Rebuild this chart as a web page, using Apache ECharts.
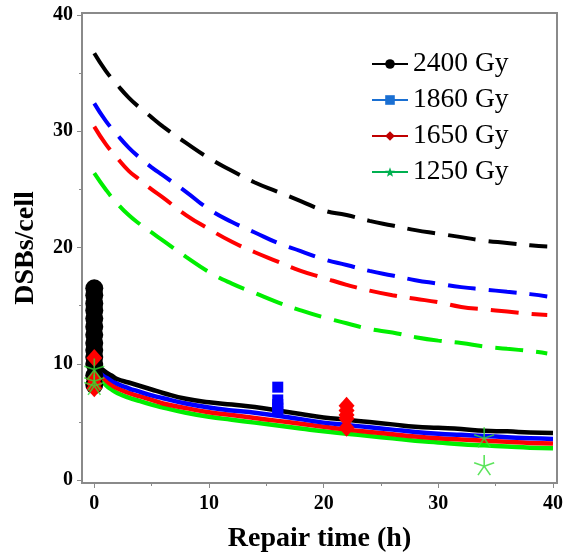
<!DOCTYPE html>
<html><head><meta charset="utf-8">
<script src="https://cdn.jsdelivr.net/npm/echarts@6/dist/echarts.min.js"></script>
<style>html,body{margin:0;padding:0;background:#fff}#c{width:568px;height:558px}</style>
</head><body><div id="c"></div>
<script>
// ---- data ----
const doses = ['2400 Gy', '1860 Gy', '1650 Gy', '1250 Gy'];
const xTicks = [0, 10, 20, 30, 40];
const yTicks = [0, 10, 20, 30, 40];
const xMinor = [5, 15, 25, 35];
const yMinor = [5, 15, 25, 35];

// dashed model curves
const timeModel = [0, 1, 2, 3, 4, 5, 6, 8, 10, 12, 14, 16, 18, 20, 22, 24, 26, 28, 30, 32, 34, 36, 38, 39.5];
const model2400 = [36.7, 35.2, 34.0, 32.9, 32.0, 31.2, 30.4, 29.0, 27.7, 26.6, 25.6, 24.8, 24.0, 23.2, 22.8, 22.3, 21.9, 21.5, 21.2, 20.9, 20.6, 20.4, 20.2, 20.1];
const model1860 = [32.4, 30.9, 29.7, 28.6, 27.7, 26.9, 26.2, 24.8, 23.3, 22.2, 21.3, 20.4, 19.7, 19.0, 18.5, 18.0, 17.6, 17.2, 16.9, 16.6, 16.4, 16.2, 16.0, 15.8];
const model1650 = [30.4, 28.9, 27.7, 26.6, 25.8, 25.0, 24.3, 22.8, 21.6, 20.5, 19.6, 18.8, 18.0, 17.4, 16.8, 16.3, 15.9, 15.6, 15.3, 14.9, 14.7, 14.5, 14.3, 14.2];
const model1250 = [26.4, 25.0, 23.8, 22.8, 22.0, 21.3, 20.6, 19.2, 17.9, 16.9, 16.1, 15.3, 14.6, 14.0, 13.5, 13.0, 12.7, 12.3, 12.0, 11.8, 11.5, 11.3, 11.1, 10.9];

// solid fitted curves
const timeFit = [0, 0.5, 1, 1.5, 2, 3, 4, 5, 6, 8, 10, 12, 14, 16, 18, 20, 22, 24, 26, 28, 30, 32, 34, 36, 38, 40];
const fit2400 = [10.2, 9.7, 9.3, 9.0, 8.7, 8.4, 8.1, 7.8, 7.5, 7.0, 6.7, 6.5, 6.3, 6.0, 5.7, 5.4, 5.2, 5.0, 4.8, 4.6, 4.5, 4.4, 4.25, 4.2, 4.1, 4.05];
const fit1860 = [10.0, 9.4, 9.0, 8.6, 8.3, 7.9, 7.6, 7.3, 7.05, 6.6, 6.25, 6.0, 5.8, 5.55, 5.25, 4.95, 4.75, 4.55, 4.35, 4.15, 4.0, 3.9, 3.8, 3.7, 3.6, 3.55];
const fit1650 = [9.8, 9.1, 8.6, 8.2, 7.9, 7.5, 7.2, 6.9, 6.6, 6.2, 5.85, 5.6, 5.35, 5.1, 4.85, 4.6, 4.35, 4.15, 3.95, 3.75, 3.6, 3.5, 3.4, 3.3, 3.2, 3.15];
const fit1250 = [9.6, 8.8, 8.2, 7.8, 7.5, 7.1, 6.8, 6.5, 6.25, 5.8, 5.45, 5.2, 4.95, 4.7, 4.45, 4.2, 4.0, 3.8, 3.6, 3.4, 3.25, 3.1, 3.0, 2.9, 2.8, 2.75];

// measured points
const meas2400T = [0, 0, 0, 0, 0, 0, 0, 0, 0, 0, 0, 0, 0];
const meas2400V = [16.5, 15.9, 15.2, 14.6, 13.9, 13.2, 12.5, 11.8, 11.2, 10.6, 10.0, 9.0, 8.2];
const meas1860T = [16, 16, 16, 16, 16];
const meas1860V = [8.0, 6.9, 6.5, 6.2, 5.9];
const meas1650T = [0, 0, 0, 0, 22, 22, 22, 22, 22];
const meas1650V = [10.5, 8.7, 8.3, 7.9, 6.4, 6.0, 5.6, 5.3, 4.5];
const meas1250T = [0, 0, 0, 34, 34];
const meas1250V = [9.6, 8.6, 8.2, 3.7, 1.3];

// ---- styles ----
const lineColors = ['#000000', '#0000ff', '#ff0000', '#00ee00'];
const markColors = ['#000000', '#0000ff', '#ff0000', '#33dd33'];
const legendColors = ['#000000', '#1a6fd2', '#c00000', '#00b050'];
const ASTER = 'path://M0,-10L0,0M0,0L9.5,-3.1M0,0L5.9,8.1M0,0L-5.9,8.1M0,0L-9.5,-3.1';
const STARF = 'path://M0,-10L2.5,-3.4L9.5,-3.1L4,1.3L5.9,8.1L0,4.2L-5.9,8.1L-4,1.3L-9.5,-3.1L-2.5,-3.4Z';
const legendSymbols = ['circle', 'rect', 'diamond', STARF];
const FONT = '"Liberation Serif","Times New Roman",serif';
const AX = '#8a8a8a';

const zip = (a, b) => a.map((v, i) => [v, b[i]]);
const models = [model2400, model1860, model1650, model1250];
const fits = [fit2400, fit1860, fit1650, fit1250];
const meas = [[meas2400T, meas2400V], [meas1860T, meas1860V], [meas1650T, meas1650V], [meas1250T, meas1250V]];

const series = [];
models.forEach((m, i) => series.push({
  name: doses[i] + ' model', type: 'line', data: zip(timeModel, m), smooth: true, symbol: 'none',
  lineStyle: { color: lineColors[i], width: 4, type: [28, 13] }, z: 2, silent: true
}));
fits.forEach((f, i) => series.push({
  name: doses[i] + ' fit', type: 'line', data: zip(timeFit, f), smooth: true, symbol: 'none',
  lineStyle: { color: lineColors[i], width: 4.5 }, z: 3 + (3 - i) * 0.1, silent: true
}));
const markSym = ['circle', 'rect', 'diamond', ASTER];
const markSize = [18, 11, [16, 18], 20];
meas.forEach((mm, i) => series.push({
  name: doses[i] + ' data', type: 'scatter', data: zip(mm[0], mm[1]),
  symbol: markSym[i], symbolSize: markSize[i], z: 5 + i,
  itemStyle: i === 3 ? { color: 'rgba(0,0,0,0)', borderColor: markColors[i], borderWidth: 1.6 } : { color: markColors[i], opacity: 1 },
  silent: true
}));
doses.forEach((d, i) => series.push({
  name: d, type: 'line', data: [], symbol: legendSymbols[i],
  lineStyle: { color: legendColors[i], width: 3 }, itemStyle: { color: legendColors[i] }
}));

const chart = echarts.init(document.getElementById('c'), null, { renderer: 'canvas' });
const xRange = { min: -1.07, max: 40.35 };
const yRange = { min: -0.24, max: 40.17 };
chart.setOption({
  animation: false,
  backgroundColor: '#fff',
  grid: { left: 82, right: 11, top: 13, bottom: 68.5, show: true, borderColor: AX, borderWidth: 2, backgroundColor: 'transparent' },
  legend: {
    data: doses, orient: 'vertical', left: 366, top: 45, itemWidth: 36, itemHeight: 12, itemGap: 8,
    textStyle: { fontFamily: FONT, fontSize: 27.5, color: '#000' }, selectedMode: false
  },
  xAxis: [{
    type: 'value', min: xRange.min, max: xRange.max,
    name: 'Repair time (h)', nameLocation: 'middle', nameGap: 42,
    nameTextStyle: { fontFamily: FONT, fontSize: 28, fontWeight: 'bold', color: '#000' },
    axisLine: { show: true, onZero: false, lineStyle: { color: AX, width: 2 } },
    axisTick: { show: true, length: 5, customValues: xTicks, lineStyle: { color: AX, width: 1 } },
    axisLabel: { customValues: xTicks, fontFamily: FONT, fontSize: 20, fontWeight: 'bold', color: '#000', margin: 11 },
    splitLine: { show: false }
  }, {
    type: 'value', min: xRange.min, max: xRange.max, position: 'bottom',
    axisLine: { show: false, onZero: false },
    axisTick: { show: true, length: 3, customValues: xMinor, lineStyle: { color: AX, width: 1 } },
    axisLabel: { show: false }, splitLine: { show: false }
  }],
  yAxis: [{
    type: 'value', min: yRange.min, max: yRange.max,
    name: 'DSBs/cell', nameLocation: 'middle', nameGap: 42, nameRotate: 90,
    nameTextStyle: { fontFamily: FONT, fontSize: 28, fontWeight: 'bold', color: '#000' },
    axisLine: { show: true, onZero: false, lineStyle: { color: AX, width: 2 } },
    axisTick: { show: true, length: 5, customValues: yTicks, lineStyle: { color: AX, width: 1 } },
    axisLabel: { customValues: yTicks, fontFamily: FONT, fontSize: 20, fontWeight: 'bold', color: '#000', margin: 9 },
    splitLine: { show: false }
  }, {
    type: 'value', min: yRange.min, max: yRange.max, position: 'left',
    axisLine: { show: false, onZero: false },
    axisTick: { show: true, length: 3, customValues: yMinor, lineStyle: { color: AX, width: 1 } },
    axisLabel: { show: false }, splitLine: { show: false }
  }],
  series: series
});
</script></body></html>
